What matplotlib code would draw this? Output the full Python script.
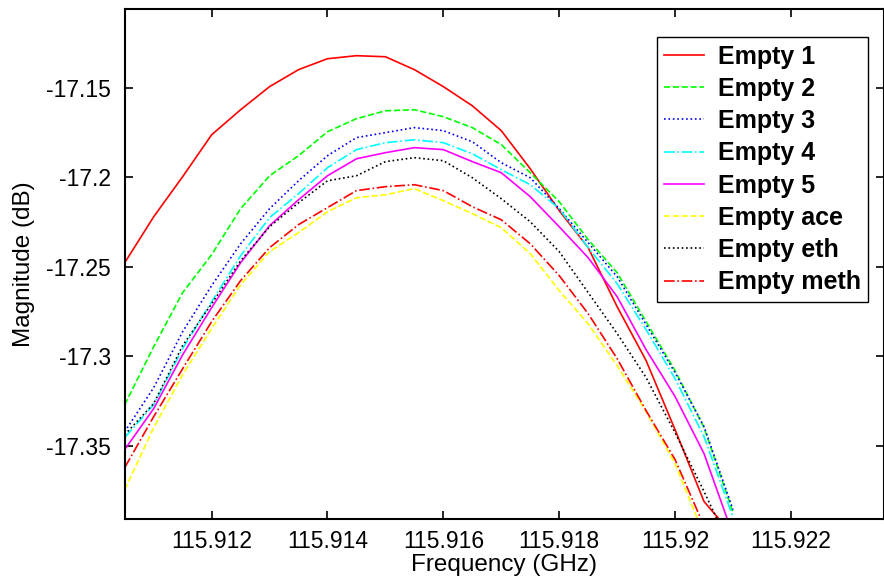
import numpy as np
from matplotlib import pyplot as plt

plt.rcParams['font.family'] = ['Liberation Sans', 'DejaVu Sans']

## Données (fréquence en GHz, amplitude en dB)

freq = [115.9105, 115.9110, 115.9115, 115.9120, 115.9125, 115.9130, 115.9135,
        115.9140, 115.9145, 115.9150, 115.9155, 115.9160, 115.9165, 115.9170,
        115.9175, 115.9180, 115.9185, 115.9190, 115.9195, 115.9200, 115.9205,
        115.9210]

empty1 = [-17.2478, -17.2221, -17.1997, -17.1763, -17.1623, -17.1494, -17.1399,
          -17.1338, -17.1321, -17.1327, -17.1399, -17.1494, -17.1601, -17.1740,
          -17.1953, -17.2187, -17.2394, -17.2724, -17.3025, -17.3411, -17.3813,
          -17.4000]
empty2 = [-17.3271, -17.2947, -17.2645, -17.2433, -17.2176, -17.1992, -17.1880,
          -17.1746, -17.1673, -17.1629, -17.1623, -17.1662, -17.1723, -17.1818,
          -17.1975, -17.2137, -17.2349, -17.2534, -17.2807, -17.3081, -17.3400,
          -17.3874]
empty3 = [-17.3422, -17.3176, -17.2863, -17.2606, -17.2372, -17.2176, -17.2020,
          -17.1880, -17.1779, -17.1751, -17.1723, -17.1740, -17.1802, -17.1919,
          -17.2003, -17.2176, -17.2366, -17.2556, -17.2824, -17.3092, -17.3394,
          -17.3858]
empty4 = [-17.3455, -17.3271, -17.2958, -17.2696, -17.2439, -17.2226, -17.2092,
          -17.1947, -17.1846, -17.1807, -17.1791, -17.1807, -17.1869, -17.1958,
          -17.2042, -17.2176, -17.2394, -17.2595, -17.2852, -17.3126, -17.3450,
          -17.3900]
empty5 = [-17.3522, -17.3293, -17.2992, -17.2729, -17.2478, -17.2271, -17.2126,
          -17.1992, -17.1897, -17.1863, -17.1835, -17.1846, -17.1913, -17.1975,
          -17.2109, -17.2277, -17.2450, -17.2668, -17.2964, -17.3226, -17.3545,
          -17.4000]
empty_ace = [-17.3746, -17.3400, -17.3103, -17.2846, -17.2601, -17.2416, -17.2310,
             -17.2193, -17.2115, -17.2098, -17.2064, -17.2131, -17.2204, -17.2282,
             -17.2427, -17.2634, -17.2819, -17.3053, -17.3310, -17.3601, -17.4000,
             -17.4300]
empty_eth = [-17.3439, -17.3265, -17.2941, -17.2707, -17.2467, -17.2277, -17.2143,
             -17.2020, -17.1992, -17.1913, -17.1891, -17.1908, -17.2003, -17.2120,
             -17.2249, -17.2416, -17.2645, -17.2874, -17.3120, -17.3428, -17.3757,
             -17.4100]
empty_meth = [-17.3623, -17.3338, -17.3070, -17.2807, -17.2578, -17.2394, -17.2265,
              -17.2170, -17.2075, -17.2053, -17.2042, -17.2075, -17.2165, -17.2238,
              -17.2372, -17.2550, -17.2763, -17.3014, -17.3305, -17.3578, -17.3950,
              -17.4250]

noms = ['Empty 1', 'Empty 2', 'Empty 3', 'Empty 4', 'Empty 5',
        'Empty ace', 'Empty eth', 'Empty meth']
series = [empty1, empty2, empty3, empty4, empty5, empty_ace, empty_eth, empty_meth]
couleurs = ['#ff0000', '#00ff00', '#0000ff', '#00ffff', '#ff00ff',
            '#ffff00', '#000000', '#ff0000']
styles = ['-', '--', ':', '-.', '-', '--', ':', '-.']


## Tracé

fig = plt.figure(figsize=(8.84, 5.83), dpi=100)
ax = fig.add_axes([0.1411, 0.1098, 0.8585, 0.8748])

for nom, s, c, ls in zip(noms, series, couleurs, styles):
    ax.plot(freq, s, color=c, linestyle=ls, linewidth=1.2, label=nom)

ax.set_xlim(115.9105, 115.9236)
ax.set_ylim(-17.391, -17.106)
ax.set_xticks([115.912, 115.914, 115.916, 115.918, 115.920, 115.922])
ax.set_xticklabels(['115.912', '115.914', '115.916', '115.918', '115.92', '115.922'])
ax.set_yticks([-17.35, -17.3, -17.25, -17.2, -17.15])
ax.set_yticklabels(['-17.35', '-17.3', '-17.25', '-17.2', '-17.15'])

ax.tick_params(axis='both', direction='in', length=6, width=1.2, labelsize=16.5,
               top=True, right=True)
ax.tick_params(axis='y', pad=10)
ax.tick_params(axis='x', pad=8)
for sp in ax.spines.values():
    sp.set_linewidth(1.5)

ax.set_xlabel('Frequency (GHz)', fontsize=17.5, labelpad=1)
ax.set_ylabel('Magnitude (dB)', fontsize=17.5, labelpad=8)

leg = ax.legend(loc='upper right', bbox_to_anchor=(0.980, 0.945), borderaxespad=0,
                prop={'weight': 'bold', 'size': 18}, fancybox=False, framealpha=1,
                edgecolor='black', handlelength=1.6, handletextpad=0.55,
                labelspacing=0.33, borderpad=0.3)
leg.get_frame().set_linewidth(1.0)

plt.savefig('out.png', dpi=100)
